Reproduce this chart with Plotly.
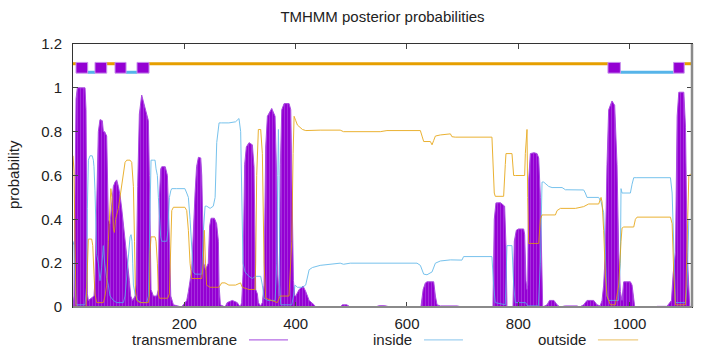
import plotly.graph_objects as go

# ---------------- data ----------------
tm_x = [0, 1.8, 3.6, 5.5, 7.8, 21.6, 23.4, 24.6, 25.8, 27.6, 33.6, 37.7, 39.5, 42.5, 45.5, 48.5, 52.7, 54.5,
        56.9, 60.5, 61.7, 63.5, 66.5, 69.5, 72.5, 75.5, 78.5, 81.5, 84.5, 87.5, 90.5, 93.5, 96.5, 99.5, 101.3,
        103.7, 107, 111.5, 113.3, 116.2, 119.2, 123.4, 127.6, 132.4, 135.4, 137.2, 138.4, 140.2, 144.4, 150.4,
        153.4, 155.2, 157.6, 159.4, 165.7, 169.6, 173.2, 175.6, 180.4, 195, 204.3, 207.3, 213.3, 216, 219.3,
        222, 225.3, 229.5, 231.3, 233, 235, 238, 243, 245.5, 248, 254, 258, 261.2, 262.4, 264.8, 273.2, 277,
        286.2, 295, 300.5, 303, 305.4, 308.4, 311.4, 316.2, 322.2, 325.2, 327, 328.2, 331.2, 333, 337, 340.2,
        343.2, 346.2, 349.2, 357, 363, 366, 367.8, 370.2, 372.6, 375, 379.2, 388.2, 391.2, 394.2, 396, 398.4,
        400.2, 406.2, 413.4, 418.2, 424.2, 433.1, 436, 480, 484, 492, 498, 543, 550, 560, 570, 620, 625, 629,
        633, 636, 648, 651, 654, 660, 678, 690, 698.7, 752, 754.4, 756.8, 759.8, 768, 775.4, 777.8, 779.6,
        790.4, 792.8, 796.4, 800, 809.6, 811.4, 813.8, 815.6, 816.8, 818.6, 821.6, 828, 833.6, 836.6, 839.6,
        842.6, 843.8, 851.6, 856, 864, 869.6, 875, 884, 905.4, 910, 917.4, 923.4, 935.4, 941.4, 947, 950.4,
        953.3, 956.3, 959.3, 962.3, 968.3, 973.1, 977.3, 980.3, 983.3, 986.3, 989.3, 1001.3, 1004.3, 1007.3,
        1009.1, 1046, 1050, 1067, 1075.1, 1078.1, 1082.3, 1085.3, 1088.3, 1097.3, 1100.3, 1103.3, 1106.3,
        1108, 1112]
tm_y = [0, 0.05, 0.5, 0.95, 1.0, 1.0, 0.9, 0.5, 0.06, 0.03, 0.04, 0.05, 0.12, 0.55, 0.8, 0.855, 0.85, 0.8,
        0.8, 0.78, 0.6, 0.4, 0.38, 0.45, 0.55, 0.57, 0.58, 0.55, 0.51, 0.45, 0.38, 0.31, 0.25, 0.17, 0.12,
        0.05, 0.03, 0.05, 0.1, 0.55, 0.88, 0.967, 0.93, 0.88, 0.85, 0.6, 0.3, 0.08, 0.05, 0.05,
        0.08, 0.5, 0.63, 0.64, 0.64, 0.6, 0.3, 0.05, 0.01, 0.0, 0.03, 0.07, 0.17, 0.35, 0.52,
        0.64, 0.683, 0.68, 0.6, 0.4, 0.2, 0.17, 0.2, 0.37, 0.405, 0.405, 0.38, 0.3, 0.1, 0.01, 0.0, 0.02,
        0.03, 0.02, 0.0, 0.02, 0.15, 0.65, 0.73, 0.75, 0.74, 0.64, 0.2, 0.08, 0.06, 0.02, 0.005, 0.02,
        0.1, 0.73, 0.87, 0.906, 0.87, 0.58, 0.15, 0.05, 0.65, 0.9, 0.928, 0.928, 0.9, 0.5, 0.12, 0.05,
        0.05, 0.08, 0.095, 0.07, 0.03, 0.01, 0.0, 0.0, 0.01, 0.01, 0.0, 0.0, 0.006, 0.006, 0.0, 0.0, 0.0, 0.08,
        0.11, 0.115, 0.115, 0.05, 0.01, 0.005, 0.005, 0.005, 0.0, 0.0, 0.0, 0.4, 0.475, 0.476, 0.46, 0.28, 0.0,
        0.0, 0.3, 0.35, 0.356, 0.356, 0.33, 0.12, 0.08, 0.1, 0.58, 0.7, 0.704, 0.7, 0.68, 0.5,
        0.1, 0.0, 0.01, 0.03, 0.03, 0.01, 0.0, 0.005, 0.005, 0.0, 0.01, 0.03, 0.03, 0.01, 0.005, 0.03,
        0.1, 0.25, 0.65, 0.9, 0.94, 0.92, 0.65, 0.25, 0.07, 0.03, 0.115, 0.115, 0.1, 0.03,
        0.0, 0.0, 0.003, 0.003, 0.03, 0.15, 0.25, 0.87, 0.98, 0.98, 0.82, 0.25, 0.03,
        0.0, 0.0]

inside_x = [0, 1.8, 3.6, 5.5, 21.6, 24.6, 25.8, 27.6, 30.6, 34.5, 36.6, 37.7, 39.5, 41.3, 42.5, 45.5, 48.5,
            51.5, 54.5, 56.9, 60.5, 63.5, 66.5, 72.5, 78.5, 84.5, 90.5, 93.5, 96.5, 99.5, 102.5, 104.3, 106,
            107.3, 108.5, 111.5, 116.2, 123.4, 132.4, 135.4, 137.2, 138.4, 140.2, 144.4, 147.4, 149.2, 151.6,
            153.4, 155.2, 157.6, 159.4, 164.2, 168.4, 170.5, 173.2, 175.6, 177.4, 186.3, 201, 204.3, 207.3,
            210.3, 213.3, 216, 219.3, 231.3, 234.3, 237.3, 240.3, 246.3, 252, 255.3, 258.2, 262.4, 267.2, 280,
            292, 298.2, 301.2, 303, 305.4, 309, 316, 322, 328.2, 337.2, 340.2, 343.2, 350, 363, 366, 367.8,
            369, 370.2, 371.4, 373.2, 393, 396, 399, 403, 412, 418, 421.2, 424.2, 430, 444, 480, 486, 498,
            560, 618, 624, 630, 636, 645, 651, 660, 678, 698.7, 701.7, 752.6, 755.6, 758.6, 776.6, 778.4,
            779.6, 788.6, 791.6, 794.6, 813, 817, 836, 839.6, 842.6, 845.6, 854.6, 860.6, 878.6, 884.6,
            917.4, 920.4, 923.4, 944.4, 948.6, 953.3, 956.3, 959.3, 962.3, 980, 983.3, 984.5, 986.3, 989.3,
            1001.3, 1004.3, 1007.3, 1013, 1067, 1073.3, 1076.3, 1079.3, 1082.3, 1100, 1103.3, 1106.3, 1112]
inside_y = [0.30, 0.28, 0.12, 0.01, 0.01, 0.1, 0.45, 0.67, 0.69, 0.69, 0.67, 0.64, 0.53, 0.35, 0.24, 0.2, 0.12,
            0.18, 0.28, 0.2, 0.13, 0.1, 0.05, 0.03, 0.02, 0.02, 0.02, 0.05, 0.15, 0.25, 0.32, 0.33, 0.3,
            0.2, 0.1, 0.06, 0.03, 0.02, 0.02, 0.05, 0.3, 0.6, 0.67, 0.67, 0.67, 0.63, 0.6,
            0.5, 0.4, 0.32, 0.3, 0.3, 0.3, 0.35, 0.5, 0.53, 0.54, 0.54, 0.54, 0.52, 0.5,
            0.4, 0.25, 0.16, 0.15, 0.15, 0.35, 0.46, 0.46, 0.45, 0.46, 0.5, 0.75, 0.84, 0.84, 0.84,
            0.845, 0.86, 0.8, 0.5, 0.2, 0.16, 0.14, 0.13, 0.14, 0.14, 0.1, 0.04, 0.03, 0.03, 0.2, 0.6,
            0.81, 0.6, 0.1, 0.01, 0.01, 0.05, 0.1, 0.09, 0.09, 0.1, 0.13, 0.17, 0.18, 0.19, 0.2, 0.195, 0.2,
            0.2, 0.2, 0.19, 0.15, 0.147, 0.16, 0.2, 0.21, 0.215, 0.214, 0.23, 0.23, 0.1, 0.02, 0.01, 0.2,
            0.28, 0.28, 0.1, 0.02, 0.02, 0.005, 0.005, 0.2, 0.57, 0.57, 0.55, 0.545, 0.545, 0.535,
            0.534, 0.52, 0.5, 0.5, 0.48, 0.43, 0.25, 0.05, 0.03, 0.03, 0.2, 0.54, 0.52, 0.52,
            0.52, 0.56, 0.59, 0.59, 0.59, 0.59, 0.52, 0.2, 0.02, 0.02, 0.1, 0.4, 0.4]

outside_x = [0, 1.8, 3.6, 5.5, 23.4, 25.8, 27.6, 33.6, 35.5, 37.7, 39.5, 42.5, 48.5, 54.5, 57.5, 60.5, 63.5,
             66.5, 68, 70, 72.5, 74.3, 76.5, 81.5, 84.5, 87.5, 90.5, 93.5, 96.5, 102.5, 105.5, 108.5, 110.5,
             112, 114.4, 120, 135.4, 137.2, 138.4, 140.2, 147.4, 149.2, 151.6, 153.4, 155.2, 170, 173.2,
             175.6, 177.4, 180.4, 201, 204.3, 207.3, 210.3, 213.3, 219.3, 231.3, 234, 236, 238, 240, 246,
             262, 264.8, 267, 273, 280, 292, 301, 304, 316, 327, 328.2, 330, 333, 337.2, 340.2, 343.2, 346.2,
             367, 372, 388, 393, 395.4, 397.2, 400.2, 403.2, 412.2, 418.2, 444, 480, 486, 504, 552, 564, 624,
             627, 630, 642, 645, 648, 651, 660, 678, 680.7, 686.7, 752.6, 753.8, 756.8, 758.6, 773.6, 776.6,
             777.8, 788.6, 791.6, 794.6, 811.4, 812.6, 815.6, 816.8, 818.6, 836.6, 839.6, 842.6, 866.6, 869.6,
             875.6, 902.6, 917.4, 926.4, 944.4, 948.6, 950.4, 953.3, 956.3, 959.3, 965.3, 974.3, 980.3, 984.5,
             986.3, 989.3, 1007.3, 1010.3, 1013.3, 1073.3, 1076.3, 1079.3, 1082.3, 1100.3, 1103.3, 1106.3, 1112]
outside_y = [0.69, 0.62, 0.3, 0.0, 0.0, 0.2, 0.31, 0.31, 0.28, 0.15, 0.06, 0.02, 0.02, 0.02, 0.05, 0.1, 0.3,
             0.5, 0.54, 0.5, 0.36, 0.34, 0.4, 0.45, 0.5, 0.55, 0.6, 0.66, 0.67, 0.67, 0.66, 0.55, 0.3,
             0.08, 0.03, 0.02, 0.02, 0.05, 0.25, 0.32, 0.32, 0.3, 0.2, 0.06, 0.04, 0.04, 0.06,
             0.3, 0.44, 0.455, 0.455, 0.44, 0.35, 0.2, 0.13, 0.13, 0.13, 0.2, 0.35, 0.2, 0.1, 0.09,
             0.09, 0.1, 0.11, 0.11, 0.1, 0.1, 0.11, 0.09, 0.08, 0.08, 0.2, 0.6, 0.81, 0.81, 0.7, 0.2, 0.04,
             0.02, 0.05, 0.05, 0.3, 0.7, 0.87, 0.85, 0.83, 0.81, 0.805, 0.807, 0.807, 0.8, 0.8, 0.8, 0.805, 0.805,
             0.78, 0.755, 0.755, 0.74, 0.76, 0.78, 0.785, 0.79, 0.777, 0.775, 0.775, 0.7, 0.52, 0.505, 0.505, 0.65,
             0.7, 0.7, 0.6, 0.6, 0.6, 0.7, 0.81, 0.5, 0.29, 0.29, 0.4, 0.42, 0.42, 0.44,
             0.45, 0.45, 0.458, 0.47, 0.47, 0.5, 0.48, 0.35, 0.15, 0.05, 0.01, 0.01, 0.1, 0.3,
             0.36, 0.365, 0.365, 0.4, 0.41, 0.41, 0.38, 0.15, 0.01, 0.01, 0.3, 0.6, 0.61]

# predicted topology (residue ranges)
tm_segments = [(5.4, 26.4), (39.5, 60.6), (75.5, 95.3), (115.0, 136.6), (961.0, 983.3), (1079.0, 1098.0)]
inside_segments = [(26.4, 39.5), (95.3, 115.0), (983.3, 1079.0)]
outside_segments = [(0.0, 5.4), (60.6, 75.5), (136.6, 961.0), (1098.0, 1112.0)]

x_ticks = [200, 400, 600, 800, 1000]
y_ticks = [0, 0.2, 0.4, 0.6, 0.8, 1.0, 1.2]
y_ticklabels = ["0", "0.2", "0.4", "0.6", "0.8", "1", "1.2"]
legend_names = ["transmembrane", "inside", "outside"]

X_MAX = 1112
PURPLE = "#9400D3"
BLUE = "#56B4E9"
ORANGE = "#E69F00"
FONT = "Liberation Sans"

fig = go.Figure()
fig.add_trace(go.Scatter(
    x=tm_x, y=tm_y, mode="lines", fill="tozeroy",
    line=dict(color="#a94be0", width=1),
    fillcolor=PURPLE,
    fillpattern=dict(shape="|", bgcolor=PURPLE, fgcolor="#b65ce6", size=3, solidity=0.35),
    hoverinfo="skip", showlegend=False))
fig.add_trace(go.Scatter(x=inside_x, y=inside_y, mode="lines",
                         line=dict(color=BLUE, width=1), opacity=0.8,
                         hoverinfo="skip", showlegend=False))
fig.add_trace(go.Scatter(x=outside_x, y=outside_y, mode="lines",
                         line=dict(color=ORANGE, width=1), opacity=0.8,
                         hoverinfo="skip", showlegend=False))

shapes = []
# topology bar at the top
for a, b in outside_segments:
    shapes.append(dict(type="line", xref="x", yref="y", x0=a, x1=b, y0=1.110, y1=1.110,
                       line=dict(color=ORANGE, width=3), layer="above"))
for a, b in inside_segments:
    shapes.append(dict(type="line", xref="x", yref="y", x0=a, x1=b, y0=1.071, y1=1.071,
                       line=dict(color=BLUE, width=3), layer="above"))
for a, b in tm_segments:
    shapes.append(dict(type="rect", xref="x", yref="y", x0=a, x1=b, y0=1.067, y1=1.116,
                       fillcolor=PURPLE, line=dict(color="#c890ec", width=1), layer="above"))

# borders: bottom and right drawn grey and thicker
shapes.append(dict(type="line", xref="paper", yref="paper", x0=0, x1=1, y0=0, y1=0,
                   line=dict(color="#8a8a8a", width=2), layer="above"))
shapes.append(dict(type="line", xref="paper", yref="paper", x0=1, x1=1, y0=0, y1=1,
                   line=dict(color="#8a8a8a", width=2.5), layer="above"))

# legend (text then sample line)
leg_y = -0.125
leg_pos = [(0.268, 0.2843, 0.3473), (0.5509, 0.567, 0.630), (0.832, 0.848, 0.913)]
leg_cols = ["#b46ae4", "#9fd0f0", "#eecb80"]
annotations = []
for name, (tx, l0, l1), col in zip(legend_names, leg_pos, leg_cols):
    annotations.append(dict(x=tx, y=leg_y, xref="paper", yref="paper", text=name, showarrow=False,
                            xanchor="right", yanchor="middle", font=dict(family=FONT, size=15, color="#222")))
    shapes.append(dict(type="line", xref="paper", yref="paper", x0=l0, x1=l1, y0=leg_y, y1=leg_y,
                       line=dict(color=col, width=1.2)))

annotations.append(dict(x=-0.0953, y=0.502, xref="paper", yref="paper", text="probability",
                        textangle=-90, showarrow=False, xanchor="center", yanchor="middle",
                        font=dict(family=FONT, size=15, color="#222")))

fig.update_layout(
    width=720, height=352,
    margin=dict(l=73, r=28, t=44, b=45),
    paper_bgcolor="white", plot_bgcolor="white",
    font=dict(family=FONT, size=15, color="#222"),
    title=dict(text="TMHMM posterior probabilities", x=0.5, xref="paper", xanchor="center",
               y=1 - 17 / 352, yref="container", yanchor="middle",
               font=dict(family=FONT, size=15, color="#222")),
    showlegend=False,
    shapes=shapes, annotations=annotations,
)
fig.update_xaxes(range=[0, X_MAX], tickvals=x_ticks, ticktext=[str(v) for v in x_ticks],
                 ticks="inside", ticklen=5, tickcolor="#444", showgrid=False, zeroline=False,
                 showline=True, linecolor="#333", linewidth=1, mirror="ticks",
                 ticklabelstandoff=3)
fig.update_yaxes(range=[0, 1.2], tickvals=y_ticks, ticktext=y_ticklabels,
                 ticks="inside", ticklen=5, tickcolor="#444", showgrid=False, zeroline=False,
                 showline=True, linecolor="#333", linewidth=1, mirror="ticks",
                 ticklabelstandoff=7)

fig.write_html("out.html")
